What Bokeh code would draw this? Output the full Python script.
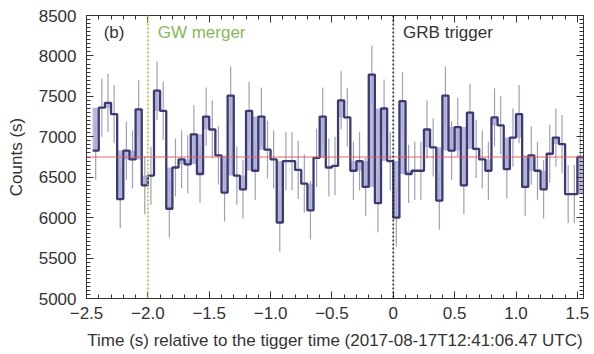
import numpy as np
from bokeh.plotting import figure
from bokeh.models import (Range1d, LinearAxis, SingleIntervalTicker, CustomJSTickFormatter,
                          Span, Label, CustomLabelingPolicy)
from bokeh.embed import file_html
from bokeh.resources import INLINE

# ---- data ----
bin_start = -2.45          # s, left edge of first bin
bin_width = 0.05           # s
counts = [6830, 7360, 7420, 7280, 6230, 6830, 6720, 7340, 6400, 6520,
          7570, 7320, 6110, 6620, 6720, 6660, 7030, 6540, 7250, 7090,
          6770, 6310, 7510, 6520, 6350, 7320, 6580, 7250, 6840, 6720,
          5940, 6700, 6700, 6590, 6420, 6090, 6740, 7250, 6620, 6640,
          7450, 7240, 6580, 6700, 6380, 7770, 6180, 7350, 6700, 6000,
          7440, 6540, 6580, 6580, 7090, 6870, 6210, 7510, 6830, 7120,
          6400, 7300, 6850, 6720, 6580, 7240, 7140, 6600, 6990, 7280,
          6380, 6770, 6580, 6350, 6790, 6990, 6910, 6290, 6290, 6750]
count_err = 360            # half length of the error bars
mean_level = 6750          # red horizontal line
gw_time = -2.0
grb_time = 0.0
x_ticks_interval = 0.5
y_ticks_interval = 500

FONT = "Liberation Sans"
FS = "17px"
NAVY = "#3b3b72"
LAV = "#acacd6"
TXT = "#333333"

n = len(counts)
edges = bin_start + bin_width * np.arange(n + 1)
centers = edges[:-1] + bin_width / 2
v = np.array(counts, dtype=float)

p = figure(width=594, height=354, x_range=Range1d(-2.5, 1.55), y_range=Range1d(5000, 8500),
           output_backend="svg", toolbar_location=None,
           min_border_left=86, min_border_right=11, min_border_top=15, min_border_bottom=56)
p.xgrid.visible = False
p.ygrid.visible = False
p.outline_line_color = TXT
p.background_fill_color = "white"

# error bars
p.segment(x0=centers, y0=v - count_err, x1=centers, y1=v + count_err,
          line_color="#a0a0b8", line_width=1.2)

# lavender fill of protruding bins
l, r, b, t = [], [], [], []
for i in range(n):
    nb = []
    if i > 0:
        nb.append(v[i - 1])
    if i < n - 1:
        nb.append(v[i + 1])
    lo, hi = min(nb), max(nb)
    if v[i] < lo:
        l.append(edges[i]); r.append(edges[i + 1]); b.append(v[i]); t.append(lo)
    elif v[i] > hi:
        l.append(edges[i]); r.append(edges[i + 1]); b.append(hi); t.append(v[i])
p.quad(left=l, right=r, bottom=b, top=t, fill_color=LAV, fill_alpha=0.85, line_color=None)

# red mean line
p.add_layout(Span(location=mean_level, dimension="width", line_color="#e05a5a",
                  line_width=1.2, line_alpha=0.9))

# step histogram
xs = list(edges)
ys = list(v) + [v[-1]]
p.step(x=xs, y=ys, mode="after", line_color=NAVY, line_width=2.3)

# event lines
p.add_layout(Span(location=gw_time, dimension="height", line_color="#a8bf3c",
                  line_width=1.6, line_dash="2 2"))
p.add_layout(Span(location=grb_time, dimension="height", line_color="#222222",
                  line_width=1.6, line_dash="2 2"))

# texts
p.add_layout(Label(x=-2.36, y=8290, text="(b)", text_baseline="middle", text_font=FONT,
                   text_font_size=FS, text_color=TXT))
p.add_layout(Label(x=-1.92, y=8290, text="GW merger", text_baseline="middle", text_font=FONT,
                   text_font_size=FS, text_color="#86b85a"))
p.add_layout(Label(x=0.08, y=8290, text="GRB trigger", text_baseline="middle", text_font=FONT,
                   text_font_size=FS, text_color=TXT))

# axes
xfmt = CustomJSTickFormatter(code="""
    if (Math.abs(tick) < 1e-9) return '0';
    return (tick < 0 ? '\u2212' : '') + Math.abs(tick).toFixed(1);
""")

def style(ax, labels=True):
    ax.axis_line_color = TXT
    ax.major_tick_line_color = TXT
    ax.minor_tick_line_color = TXT
    ax.major_tick_in = 7
    ax.major_tick_out = 0
    ax.minor_tick_in = 4
    ax.minor_tick_out = 0
    ax.major_label_text_font = FONT
    ax.major_label_text_color = TXT
    ax.major_label_text_font_size = FS
    ax.axis_label_text_font = FONT
    ax.axis_label_text_color = TXT
    ax.axis_label_text_font_style = "normal"
    ax.axis_label_text_font_size = FS
    if not labels:
        ax.major_label_policy = CustomLabelingPolicy(code="return []")
        ax.major_label_text_font_size = "0px"
        ax.major_label_standoff = 0

p.xaxis.ticker = SingleIntervalTicker(interval=x_ticks_interval, num_minor_ticks=5)
p.xaxis.formatter = xfmt
p.yaxis.ticker = SingleIntervalTicker(interval=y_ticks_interval, num_minor_ticks=10)
p.xaxis.axis_label = "Time (s) relative to the tigger time (2017-08-17T12:41:06.47 UTC)"
p.yaxis.axis_label = "Counts (s)"
style(p.xaxis[0])
style(p.yaxis[0])
p.xaxis.major_label_standoff = 8
p.xaxis.axis_label_standoff = 9
p.yaxis.major_label_standoff = 10
p.yaxis.axis_label_standoff = 10

top_ax = LinearAxis(ticker=SingleIntervalTicker(interval=x_ticks_interval, num_minor_ticks=5))
right_ax = LinearAxis(ticker=SingleIntervalTicker(interval=y_ticks_interval, num_minor_ticks=10))
style(top_ax, labels=False)
style(right_ax, labels=False)
p.add_layout(top_ax, "above")
p.add_layout(right_ax, "right")

open("out.html", "w").write(file_html(p, INLINE))
